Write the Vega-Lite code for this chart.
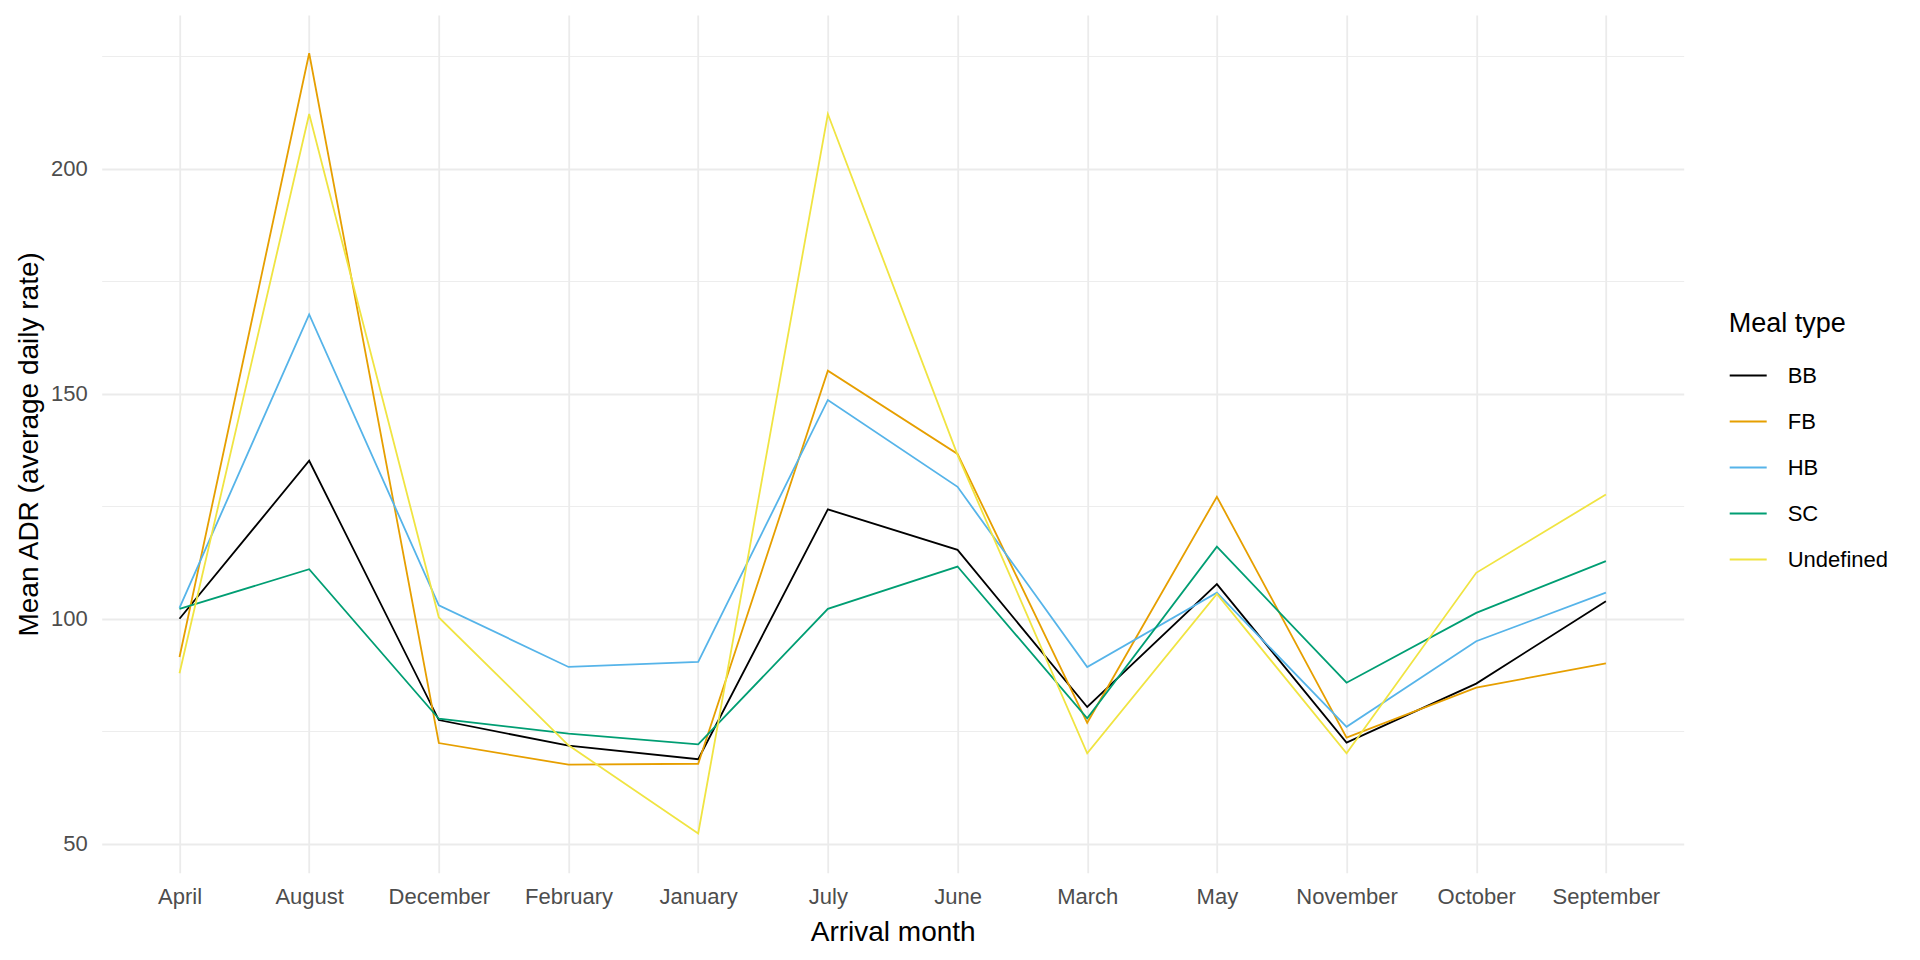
{
  "$schema": "https://vega.github.io/schema/vega-lite/v6.json",
  "autosize": {"type": "none"},
  "padding": {"left": 101.7, "top": 15, "right": 236.3, "bottom": 87.3},
  "width": 1582,
  "height": 857.7,
  "background": "white",
  "data": {
    "values": [
      {"month": "April", "meal": "BB", "adr": 100.0},
      {"month": "August", "meal": "BB", "adr": 135.1},
      {"month": "December", "meal": "BB", "adr": 77.5},
      {"month": "February", "meal": "BB", "adr": 71.8},
      {"month": "January", "meal": "BB", "adr": 68.8},
      {"month": "July", "meal": "BB", "adr": 124.3},
      {"month": "June", "meal": "BB", "adr": 115.3},
      {"month": "March", "meal": "BB", "adr": 80.4},
      {"month": "May", "meal": "BB", "adr": 107.7},
      {"month": "November", "meal": "BB", "adr": 72.5},
      {"month": "October", "meal": "BB", "adr": 85.6},
      {"month": "September", "meal": "BB", "adr": 103.9},
      {"month": "April", "meal": "FB", "adr": 91.5},
      {"month": "August", "meal": "FB", "adr": 225.6},
      {"month": "December", "meal": "FB", "adr": 72.4},
      {"month": "February", "meal": "FB", "adr": 67.6},
      {"month": "January", "meal": "FB", "adr": 67.8},
      {"month": "July", "meal": "FB", "adr": 155.1},
      {"month": "June", "meal": "FB", "adr": 136.6},
      {"month": "March", "meal": "FB", "adr": 76.9},
      {"month": "May", "meal": "FB", "adr": 127.1},
      {"month": "November", "meal": "FB", "adr": 73.6},
      {"month": "October", "meal": "FB", "adr": 84.7},
      {"month": "September", "meal": "FB", "adr": 90.1},
      {"month": "April", "meal": "HB", "adr": 102.4},
      {"month": "August", "meal": "HB", "adr": 167.6},
      {"month": "December", "meal": "HB", "adr": 103.0},
      {"month": "February", "meal": "HB", "adr": 89.3},
      {"month": "January", "meal": "HB", "adr": 90.4},
      {"month": "July", "meal": "HB", "adr": 148.6},
      {"month": "June", "meal": "HB", "adr": 129.3},
      {"month": "March", "meal": "HB", "adr": 89.3},
      {"month": "May", "meal": "HB", "adr": 105.8},
      {"month": "November", "meal": "HB", "adr": 76.0},
      {"month": "October", "meal": "HB", "adr": 95.0},
      {"month": "September", "meal": "HB", "adr": 105.8},
      {"month": "April", "meal": "SC", "adr": 102.2},
      {"month": "August", "meal": "SC", "adr": 111.0},
      {"month": "December", "meal": "SC", "adr": 77.8},
      {"month": "February", "meal": "SC", "adr": 74.5},
      {"month": "January", "meal": "SC", "adr": 72.1},
      {"month": "July", "meal": "SC", "adr": 102.2},
      {"month": "June", "meal": "SC", "adr": 111.6},
      {"month": "March", "meal": "SC", "adr": 77.9},
      {"month": "May", "meal": "SC", "adr": 116.0},
      {"month": "November", "meal": "SC", "adr": 85.8},
      {"month": "October", "meal": "SC", "adr": 101.3},
      {"month": "September", "meal": "SC", "adr": 112.8},
      {"month": "April", "meal": "Undefined", "adr": 87.9},
      {"month": "August", "meal": "Undefined", "adr": 212.1},
      {"month": "December", "meal": "Undefined", "adr": 100.3},
      {"month": "February", "meal": "Undefined", "adr": 71.9},
      {"month": "January", "meal": "Undefined", "adr": 52.3},
      {"month": "July", "meal": "Undefined", "adr": 212.1},
      {"month": "June", "meal": "Undefined", "adr": 136.4},
      {"month": "March", "meal": "Undefined", "adr": 70.1},
      {"month": "May", "meal": "Undefined", "adr": 105.5},
      {"month": "November", "meal": "Undefined", "adr": 70.1},
      {"month": "October", "meal": "Undefined", "adr": 110.2},
      {"month": "September", "meal": "Undefined", "adr": 127.6}
    ]
  },
  "mark": {"type": "line", "strokeWidth": 1.8},
  "encoding": {
    "x": {
      "field": "month",
      "type": "nominal",
      "sort": "ascending",
      "scale": {"type": "point", "padding": 0.6},
      "axis": {
        "title": "Arrival month",
        "labelAngle": 0,
        "labelPadding": 14,
        "titleY": 67.3,
        "titleBaseline": "alphabetic"
      }
    },
    "y": {
      "field": "adr",
      "type": "quantitative",
      "scale": {"domain": [43.6, 234.1], "nice": false, "zero": false},
      "axis": {
        "title": "Mean ADR (average daily rate)",
        "values": [50, 75, 100, 125, 150, 175, 200, 225],
        "labelExpr": "datum.value % 50 === 0 ? datum.label : ''",
        "gridWidth": {"condition": {"test": "datum.value % 50 === 0", "value": 1.8}, "value": 0.9},
        "labelPadding": 14.4,
        "titleX": -64,
        "titleBaseline": "alphabetic"
      }
    },
    "color": {
      "field": "meal",
      "type": "nominal",
      "title": "Meal type",
      "scale": {
        "domain": ["BB", "FB", "HB", "SC", "Undefined"],
        "range": ["#000000", "#E69F00", "#56B4E9", "#009E73", "#F0E442"]
      },
      "legend": {
        "orient": "none",
        "legendX": 1627,
        "legendY": 296,
        "padding": 0,
        "symbolType": "stroke",
        "symbolSize": 1369,
        "symbolStrokeWidth": 2,
        "rowPadding": 15,
        "titlePadding": 18,
        "labelOffset": 20
      }
    }
  },
  "config": {
    "font": "Liberation Sans",
    "view": {"stroke": null},
    "axis": {
      "domain": false,
      "ticks": false,
      "tickSize": 0,
      "grid": true,
      "gridColor": "#EBEBEB",
      "gridWidth": 1.8,
      "labelFont": "Liberation Sans",
      "labelFontSize": 22,
      "labelColor": "#4D4D4D",
      "titleFont": "Liberation Sans",
      "titleFontSize": 28,
      "titleFontWeight": "normal",
      "titleColor": "#000000"
    },
    "legend": {
      "labelFont": "Liberation Sans",
      "labelFontSize": 22,
      "labelColor": "#000000",
      "titleFont": "Liberation Sans",
      "titleFontSize": 27,
      "titleFontWeight": "normal",
      "titleColor": "#000000"
    }
  }
}
